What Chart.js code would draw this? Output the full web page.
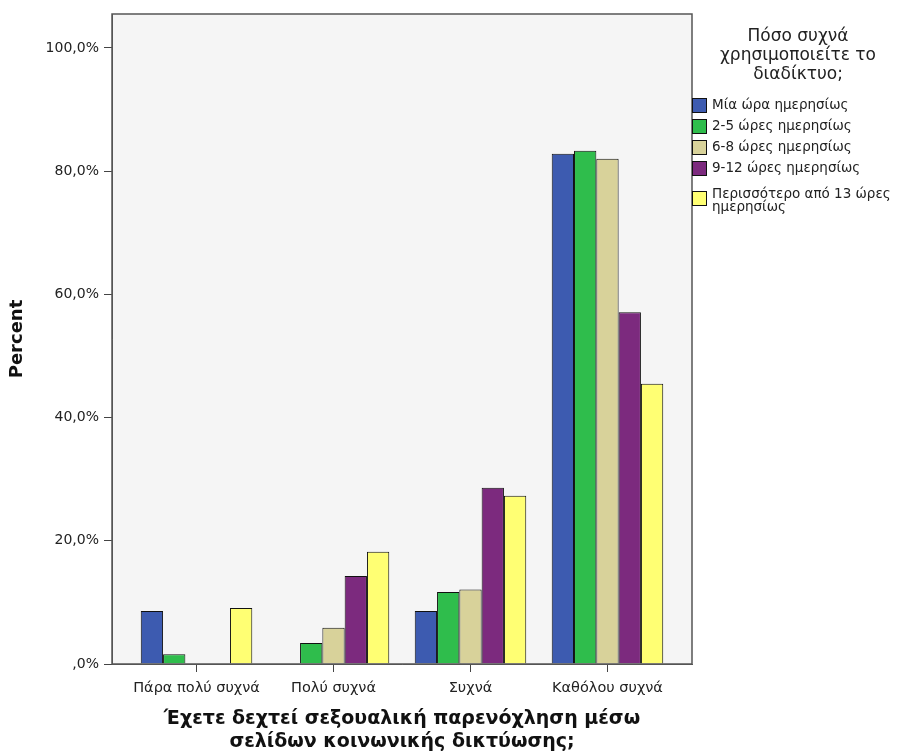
<!DOCTYPE html>
<html>
<head>
<meta charset="utf-8">
<script src="https://cdn.jsdelivr.net/npm/chart.js@4.4.1/dist/chart.umd.min.js"></script>
<style>
  html, body { margin: 0; padding: 0; background: #fff; }
  #wrap { width: 902px; height: 756px; position: relative; }
</style>
</head>
<body>
<div id="wrap"><canvas id="chart" width="902" height="756"></canvas></div>
<script>
// categories (x axis)
const categories = ['Πάρα πολύ συχνά', 'Πολύ συχνά', 'Συχνά', 'Καθόλου συχνά'];

// series values (percent)
const oneHour = [8.6, 0, 8.6, 82.8];
const twoToFive = [1.6, 3.4, 11.7, 83.3];
const sixToEight = [0, 5.9, 12.1, 82.0];
const nineToTwelve = [0, 14.3, 28.6, 57.1];
const moreThan13 = [9.1, 18.2, 27.3, 45.5];

const seriesNames = ['Μία ώρα ημερησίως', '2-5 ώρες ημερησίως', '6-8 ώρες ημερησίως', '9-12 ώρες ημερησίως', 'Περισσότερο από 13 ώρες ημερησίως'];
const seriesValues = [oneHour, twoToFive, sixToEight, nineToTwelve, moreThan13];
const seriesColors = ['#3d5bb0', '#2fbd4c', '#d8d29a', '#7c2a7e', '#ffff73'];

const yTicks = [0, 20, 40, 60, 80, 100];
const legendTitle = ['Πόσο συχνά', 'χρησιμοποιείτε το', 'διαδίκτυο;'];
const xTitle = ['Έχετε δεχτεί σεξουαλική παρενόχληση μέσω', 'σελίδων κοινωνικής δικτύωσης;'];

const FONT = "'DejaVu Sans', Verdana, sans-serif";
Chart.defaults.font.family = FONT;
Chart.defaults.color = '#222';

// plot frame + background
const framePlugin = {
    id: 'frame',
    beforeDraw(chart) {
        const a = chart.chartArea, ctx = chart.ctx;
        ctx.save();
        ctx.fillStyle = '#f5f5f5';
        ctx.fillRect(a.left, a.top, a.right - a.left, a.bottom - a.top);
        ctx.restore();
    },
    afterDatasetsDraw(chart) {
        const a = chart.chartArea, ctx = chart.ctx;
        ctx.save();
        ctx.strokeStyle = '#555';
        ctx.lineWidth = 1.5;
        ctx.strokeRect(a.left, a.top, a.right - a.left, a.bottom - a.top);
        ctx.restore();
    }
};

// legend drawn at the right of the plot
const legendPlugin = {
    id: 'sideLegend',
    afterDraw(chart) {
        const ctx = chart.ctx;
        ctx.save();
        ctx.fillStyle = '#222';
        ctx.textBaseline = 'middle';
        ctx.textAlign = 'center';
        ctx.font = '17px ' + FONT;
        [37, 56, 75].forEach((ty, i) => ctx.fillText(legendTitle[i], 798, ty));

        ctx.textAlign = 'left';
        ctx.font = '13.5px ' + FONT;
        let y = 105;
        chart.data.datasets.forEach((ds) => {
            // wrap long labels
            const words = ds.label.split(' ');
            const lines = [];
            let cur = '';
            words.forEach(w => {
                const test = cur ? cur + ' ' + w : w;
                if (ctx.measureText(test).width > 192 && cur) { lines.push(cur); cur = w; }
                else cur = test;
            });
            lines.push(cur);
            const multi = lines.length > 1;
            const textY = multi ? y + 5 : y;
            const boxY = multi ? y + 9 : y;
            ctx.fillStyle = ds.backgroundColor;
            ctx.fillRect(692, boxY - 7, 15, 15);
            ctx.strokeStyle = '#111';
            ctx.lineWidth = 1;
            ctx.strokeRect(692.5, boxY - 6.5, 14, 14);
            ctx.fillStyle = '#222';
            lines.forEach((l, i) => ctx.fillText(l, 712, textY + i * 13));
            y += 21 + (lines.length - 1) * 13;
        });
        ctx.restore();
    }
};

const datasets = seriesNames.map((name, i) => ({
    label: name,
    data: seriesValues[i].map((v, j) => ({ x: j, y: v })),
    backgroundColor: seriesColors[i],
    borderColor: '#111',
    borderWidth: 1,
    categoryPercentage: 0.814,
    barPercentage: 1.0
}));

new Chart(document.getElementById('chart'), {
    type: 'bar',
    data: { datasets },
    options: {
        responsive: false,
        animation: false,
        layout: { padding: { top: 14, right: 210, left: 0, bottom: 0 } },
        plugins: {
            legend: { display: false },
            tooltip: { enabled: false }
        },
        scales: {
            x: {
                type: 'linear',
                offset: false,
                min: -0.617,
                max: 3.617,
                afterBuildTicks: (axis) => { axis.ticks = categories.map((c, i) => ({ value: i })); },
                afterFit: (s) => { s.height = 92; },
                ticks: {
                    callback: (v) => categories[v],
                    font: { size: 14.5 },
                    color: '#222',
                    padding: 8,
                    maxRotation: 0,
                    autoSkip: false
                },
                grid: { offset: false, drawOnChartArea: false, drawTicks: true, tickLength: 8, color: '#444' },
                border: { display: true, color: '#555' },
                title: {
                    display: true,
                    text: xTitle,
                    font: { size: 19, weight: 'bold' },
                    color: '#111',
                    padding: { top: 0, bottom: 3 }
                }
            },
            y: {
                min: 0,
                max: 105.5,
                afterBuildTicks: (axis) => { axis.ticks = yTicks.map(v => ({ value: v })); },
                afterFit: (s) => { s.width = 112; },
                ticks: {
                    callback: (v) => (v === 0 ? '' : v) + ',0%',
                    font: { size: 14 },
                    color: '#222',
                    padding: 5
                },
                grid: { drawOnChartArea: false, drawTicks: true, tickLength: 8, color: '#444' },
                border: { display: true, color: '#555' },
                title: {
                    display: true,
                    text: 'Percent',
                    font: { size: 18, weight: 'bold' },
                    color: '#111',
                    padding: { top: 7, bottom: 0 }
                }
            }
        }
    },
    plugins: [framePlugin, legendPlugin]
});
</script>
</body>
</html>
